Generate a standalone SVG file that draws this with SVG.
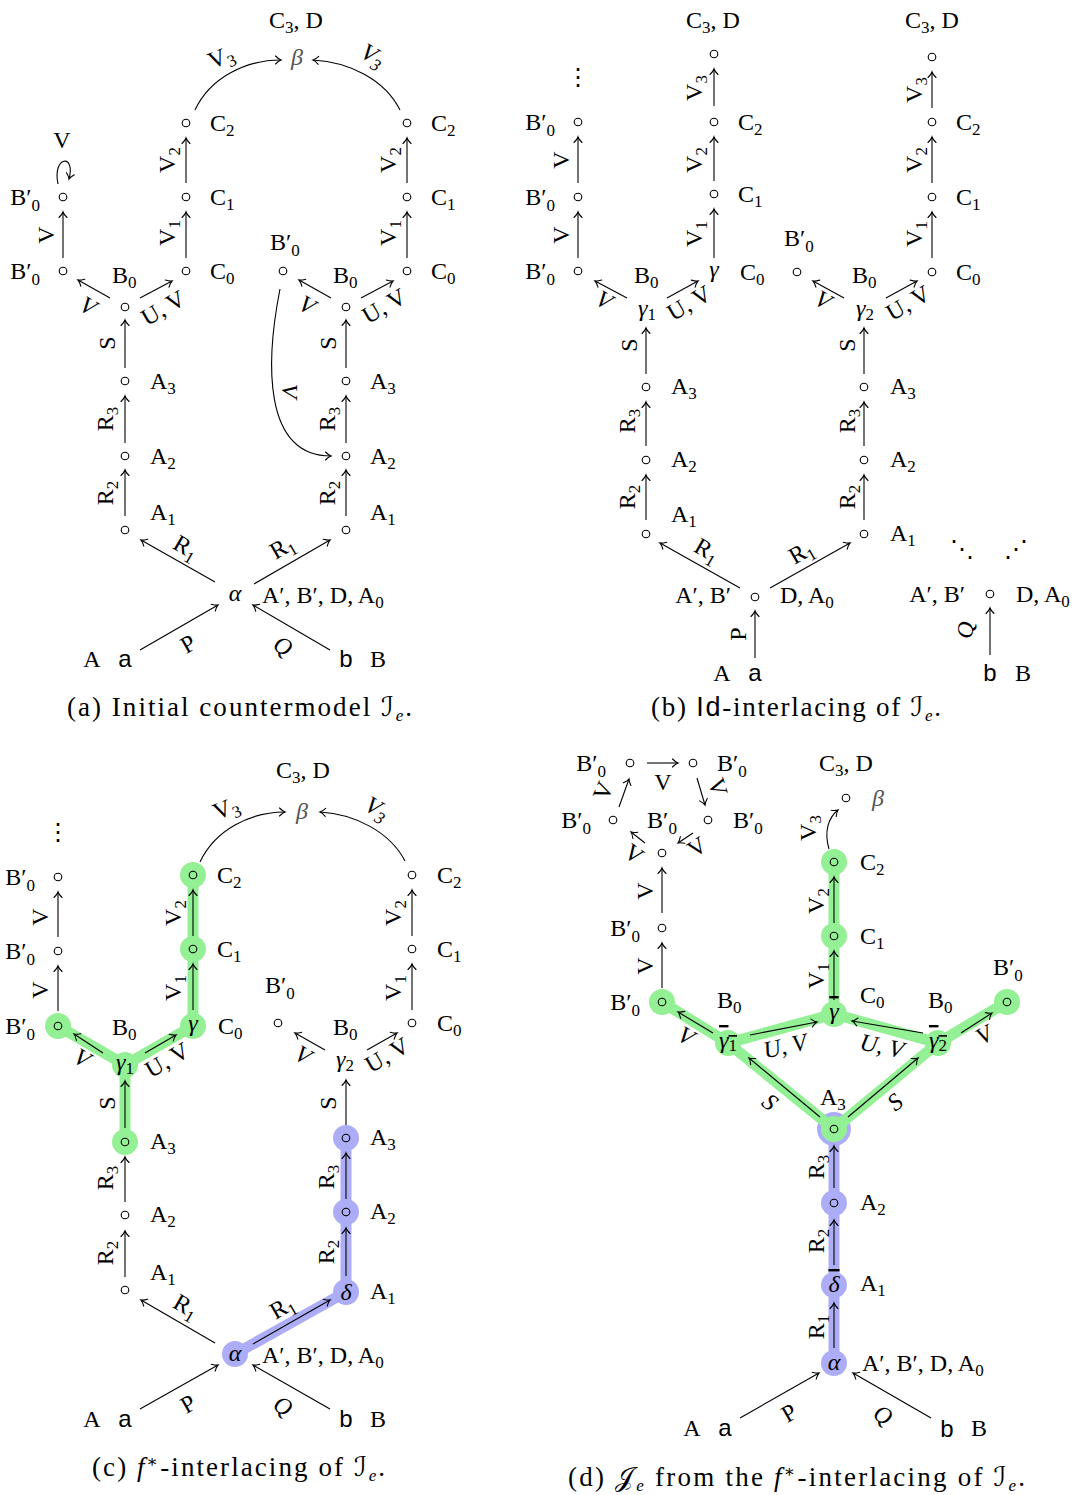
<svg xmlns="http://www.w3.org/2000/svg" width="1080" height="1495" viewBox="0 0 1080 1495">
<style>
.t{font-family:"Liberation Serif","DejaVu Serif",serif;font-size:24px;fill:#000}
.cap{font-size:27px}
.m{text-anchor:middle}
.e{text-anchor:end}
.i{font-style:italic}
.sb{font-size:17px}
.sf{font-family:"Liberation Sans","DejaVu Sans",sans-serif}
.cal{font-family:"DejaVu Serif","DejaVu Sans",serif;font-style:normal}
.gr{fill:#555}
.ov{text-decoration:overline}
.n{fill:none;stroke:#000;stroke-width:1.1}
.ed{fill:none;stroke:#000;stroke-width:1.1;marker-end:url(#ar)}
.hg{fill:none;stroke:#94f094;stroke-width:11;stroke-linecap:round;stroke-linejoin:round}
.hb{fill:none;stroke:#adadf7;stroke-width:11;stroke-linecap:round;stroke-linejoin:round}
.gd{fill:#94f094}
.bd{fill:#adadf7}
</style>
<defs>
<marker id="ar" markerUnits="userSpaceOnUse" orient="auto" overflow="visible" markerWidth="10" markerHeight="10" refX="0" refY="0">
<path d="M-5.5,-4 Q-2,-0.6 0,0 Q-2,0.6 -5.5,4" fill="none" stroke="#000" stroke-width="1.1" stroke-linecap="round"/>
</marker>
</defs>
<rect width="1080" height="1495" fill="#fff"/>

<!-- ================= PANEL A ================= -->
<g id="panel-a">
<g id="a-connectors">
<path class="ed" d="M63,258 L63,212"/>
<path class="ed" d="M58,184 C52,156 76,153 69,179"/>
<path class="ed" d="M110,298 L78,280"/>
<path class="ed" d="M140,298 L172,281"/>
<path class="ed" d="M125,368 L125,320"/>
<path class="ed" d="M125,443 L125,396"/>
<path class="ed" d="M125,516 L125,470"/>
<path class="ed" d="M186,258 L186,212"/>
<path class="ed" d="M186,183 L186,138"/>
<path class="ed" d="M195,110 C210,78 245,60 281,60"/>
<path class="ed" d="M400,110 C385,80 350,62 313,60"/>
<path class="ed" d="M331,298 L299,280"/>
<path class="ed" d="M361,298 L393,281"/>
<path class="ed" d="M346,368 L346,320"/>
<path class="ed" d="M346,443 L346,396"/>
<path class="ed" d="M346,516 L346,470"/>
<path class="ed" d="M407,258 L407,212"/>
<path class="ed" d="M407,183 L407,138"/>
<path class="ed" d="M280,289 C266,360 262,456 331,456"/>
<path class="ed" d="M215,582 L141,540"/>
<path class="ed" d="M254,584 L330,540"/>
<path class="ed" d="M140,650 L218,605"/>
<path class="ed" d="M330,650 L253,605"/>
<text class="t m" x="62" y="148">V</text>
<text class="t m" transform="translate(46,235) rotate(-90)" y="8">V</text>
<text class="t m" transform="translate(167,160) rotate(-90)" y="8">V<tspan class="sb" dy="5">2</tspan></text>
<text class="t m" transform="translate(167,233) rotate(-90)" y="8">V<tspan class="sb" dy="5">1</tspan></text>
<text class="t m" transform="translate(388,160) rotate(-90)" y="8">V<tspan class="sb" dy="5">2</tspan></text>
<text class="t m" transform="translate(388,233) rotate(-90)" y="8">V<tspan class="sb" dy="5">1</tspan></text>
<text class="t m" transform="translate(107,343) rotate(-90)" y="8">S</text>
<text class="t m" transform="translate(328,343) rotate(-90)" y="8">S</text>
<text class="t m" transform="translate(105,419) rotate(-90)" y="8">R<tspan class="sb" dy="5">3</tspan></text>
<text class="t m" transform="translate(105,493) rotate(-90)" y="8">R<tspan class="sb" dy="5">2</tspan></text>
<text class="t m" transform="translate(327,419) rotate(-90)" y="8">R<tspan class="sb" dy="5">3</tspan></text>
<text class="t m" transform="translate(327,493) rotate(-90)" y="8">R<tspan class="sb" dy="5">2</tspan></text>
<text class="t m i" transform="translate(88,306) rotate(30)" y="8">V</text>
<text class="t m" transform="translate(163,308) rotate(-30)" y="8">U, V</text>
<text class="t m i" transform="translate(307,305) rotate(30)" y="8">V</text>
<text class="t m" transform="translate(384,306) rotate(-30)" y="8">U, V</text>
<text class="t m" transform="translate(221,57) rotate(-22)" y="8">V<tspan class="sb" dy="5">3</tspan></text>
<text class="t m i" transform="translate(373,55) rotate(30)" y="8">V<tspan class="sb" dy="5">3</tspan></text>
<text class="t m" transform="translate(186,547) rotate(30)" y="8">R<tspan class="sb" dy="5">1</tspan></text>
<text class="t m" transform="translate(282,547) rotate(-30)" y="8">R<tspan class="sb" dy="5">1</tspan></text>
<text class="t m" transform="translate(188,644) rotate(-30)" y="8">P</text>
<text class="t m i" transform="translate(283,646) rotate(30)" y="8">Q</text>
<text class="t m i" transform="translate(290,391) rotate(90)" y="8">V</text>
</g>
<g id="a-bp2"><circle class="n" cx="63" cy="197" r="3.8"/><text class="t e" x="40" y="205">B′<tspan class="sb" dy="6">0</tspan></text></g>
<g id="a-bp1"><circle class="n" cx="63" cy="271" r="3.8"/><text class="t e" x="40" y="279">B′<tspan class="sb" dy="6">0</tspan></text></g>
<g id="a-b0"><circle class="n" cx="125" cy="307" r="3.8"/><text class="t" x="112" y="283">B<tspan class="sb" dy="5">0</tspan></text></g>
<g id="a-a3"><circle class="n" cx="125" cy="381" r="3.8"/><text class="t" x="150" y="389">A<tspan class="sb" dy="5">3</tspan></text></g>
<g id="a-a2"><circle class="n" cx="125" cy="456" r="3.8"/><text class="t" x="150" y="464">A<tspan class="sb" dy="5">2</tspan></text></g>
<g id="a-a1"><circle class="n" cx="125" cy="530" r="3.8"/><text class="t" x="150" y="520">A<tspan class="sb" dy="5">1</tspan></text></g>
<g id="a-c0"><circle class="n" cx="186" cy="271" r="3.8"/><text class="t" x="210" y="279">C<tspan class="sb" dy="5">0</tspan></text></g>
<g id="a-c1"><circle class="n" cx="186" cy="197" r="3.8"/><text class="t" x="210" y="205">C<tspan class="sb" dy="5">1</tspan></text></g>
<g id="a-c2"><circle class="n" cx="186" cy="123" r="3.8"/><text class="t" x="210" y="131">C<tspan class="sb" dy="5">2</tspan></text></g>
<g id="a-beta"><text class="t m i gr" x="297" y="65">β</text><text class="t m" x="296" y="28">C<tspan class="sb" dy="5">3</tspan><tspan dy="-5">, D</tspan></text></g>
<g id="a-alpha"><text class="t m i" x="235" y="601">α</text><text class="t" x="262" y="603">A′, B′, D, A<tspan class="sb" dy="5">0</tspan></text></g>
<g id="a-a"><text class="t m sf" x="125" y="667">a</text><text class="t m" x="92" y="667">A</text></g>
<g id="a-b"><text class="t m sf" x="346" y="667">b</text><text class="t m" x="378" y="667">B</text></g>
<g id="a-bpr"><circle class="n" cx="283" cy="271" r="3.8"/><text class="t" x="270" y="250">B′<tspan class="sb" dy="6">0</tspan></text></g>
<g id="a-b0r"><circle class="n" cx="346" cy="307" r="3.8"/><text class="t" x="333" y="283">B<tspan class="sb" dy="5">0</tspan></text></g>
<g id="a-a3r"><circle class="n" cx="346" cy="381" r="3.8"/><text class="t" x="370" y="389">A<tspan class="sb" dy="5">3</tspan></text></g>
<g id="a-a2r"><circle class="n" cx="346" cy="456" r="3.8"/><text class="t" x="370" y="464">A<tspan class="sb" dy="5">2</tspan></text></g>
<g id="a-a1r"><circle class="n" cx="346" cy="530" r="3.8"/><text class="t" x="370" y="520">A<tspan class="sb" dy="5">1</tspan></text></g>
<g id="a-c0r"><circle class="n" cx="407" cy="271" r="3.8"/><text class="t" x="431" y="279">C<tspan class="sb" dy="5">0</tspan></text></g>
<g id="a-c1r"><circle class="n" cx="407" cy="197" r="3.8"/><text class="t" x="431" y="205">C<tspan class="sb" dy="5">1</tspan></text></g>
<g id="a-c2r"><circle class="n" cx="407" cy="123" r="3.8"/><text class="t" x="431" y="131">C<tspan class="sb" dy="5">2</tspan></text></g>
<text class="t cap" x="67" y="716" textLength="345" lengthAdjust="spacing">(a) Initial countermodel <tspan class="cal">ℐ</tspan><tspan class="sb i" dy="5">e</tspan><tspan dy="-5">.</tspan></text>
</g>

<!-- ================= PANEL B ================= -->
<g id="panel-b">
<g id="b-connectors">
<path class="ed" d="M578,258 L578,212"/>
<path class="ed" d="M578,183 L578,137"/>
<path class="ed" d="M627,298 L595,281"/>
<path class="ed" d="M667,298 L698,281"/>
<path class="ed" d="M646,374 L646,328"/>
<path class="ed" d="M646,446 L646,402"/>
<path class="ed" d="M646,520 L646,475"/>
<path class="ed" d="M714,258 L714,209"/>
<path class="ed" d="M714,181 L714,137"/>
<path class="ed" d="M714,106 L714,69"/>
<path class="ed" d="M740,588 L660,543"/>
<path class="ed" d="M770,588 L850,543"/>
<path class="ed" d="M755,658 L755,611"/>
<path class="ed" d="M844,298 L813,281"/>
<path class="ed" d="M886,298 L917,281"/>
<path class="ed" d="M864,374 L864,328"/>
<path class="ed" d="M864,446 L864,402"/>
<path class="ed" d="M864,520 L864,475"/>
<path class="ed" d="M932,258 L932,212"/>
<path class="ed" d="M932,183 L932,137"/>
<path class="ed" d="M932,108 L932,72"/>
<path class="ed" d="M990,655 L990,608"/>
<text class="t m" transform="translate(561,160) rotate(-90)" y="8">V</text>
<text class="t m" transform="translate(561,235) rotate(-90)" y="8">V</text>
<text class="t m i" transform="translate(604,300) rotate(30)" y="8">V</text>
<text class="t m" transform="translate(689,303) rotate(-30)" y="8">U, V</text>
<text class="t m" transform="translate(629,345) rotate(-90)" y="8">S</text>
<text class="t m" transform="translate(627,421) rotate(-90)" y="8">R<tspan class="sb" dy="5">3</tspan></text>
<text class="t m" transform="translate(627,497) rotate(-90)" y="8">R<tspan class="sb" dy="5">2</tspan></text>
<text class="t m" transform="translate(694,88) rotate(-90)" y="8">V<tspan class="sb" dy="5">3</tspan></text>
<text class="t m" transform="translate(694,160) rotate(-90)" y="8">V<tspan class="sb" dy="5">2</tspan></text>
<text class="t m" transform="translate(694,234) rotate(-90)" y="8">V<tspan class="sb" dy="5">1</tspan></text>
<text class="t m" transform="translate(707,550) rotate(30)" y="8">R<tspan class="sb" dy="5">1</tspan></text>
<text class="t m" transform="translate(801,552) rotate(-30)" y="8">R<tspan class="sb" dy="5">1</tspan></text>
<text class="t m" transform="translate(738,634) rotate(-90)" y="8">P</text>
<text class="t m i" transform="translate(823,300) rotate(30)" y="8">V</text>
<text class="t m" transform="translate(908,303) rotate(-30)" y="8">U, V</text>
<text class="t m" transform="translate(847,345) rotate(-90)" y="8">S</text>
<text class="t m" transform="translate(847,421) rotate(-90)" y="8">R<tspan class="sb" dy="5">3</tspan></text>
<text class="t m" transform="translate(847,497) rotate(-90)" y="8">R<tspan class="sb" dy="5">2</tspan></text>
<text class="t m" transform="translate(914,90) rotate(-90)" y="8">V<tspan class="sb" dy="5">3</tspan></text>
<text class="t m" transform="translate(914,160) rotate(-90)" y="8">V<tspan class="sb" dy="5">2</tspan></text>
<text class="t m" transform="translate(914,234) rotate(-90)" y="8">V<tspan class="sb" dy="5">1</tspan></text>
<text class="t m i" transform="translate(965,630) rotate(-90)" y="8">Q</text>
</g>
<g id="b-dots"><text class="t m" x="578" y="85">⋮</text></g>
<g id="b-bp3"><circle class="n" cx="578" cy="122" r="3.8"/><text class="t e" x="555" y="130">B′<tspan class="sb" dy="6">0</tspan></text></g>
<g id="b-bp2"><circle class="n" cx="578" cy="197" r="3.8"/><text class="t e" x="555" y="205">B′<tspan class="sb" dy="6">0</tspan></text></g>
<g id="b-bp1"><circle class="n" cx="578" cy="271" r="3.8"/><text class="t e" x="555" y="279">B′<tspan class="sb" dy="6">0</tspan></text></g>
<g id="b-g1"><text class="t m i" x="647" y="316">γ<tspan class="sb" dy="4" font-style="normal">1</tspan></text><text class="t" x="634" y="283">B<tspan class="sb" dy="5">0</tspan></text></g>
<g id="b-a3"><circle class="n" cx="646" cy="387" r="3.8"/><text class="t" x="671" y="394">A<tspan class="sb" dy="5">3</tspan></text></g>
<g id="b-a2"><circle class="n" cx="646" cy="460" r="3.8"/><text class="t" x="671" y="467">A<tspan class="sb" dy="5">2</tspan></text></g>
<g id="b-a1"><circle class="n" cx="646" cy="534" r="3.8"/><text class="t" x="671" y="522">A<tspan class="sb" dy="5">1</tspan></text></g>
<g id="b-c3"><circle class="n" cx="714" cy="54" r="3.8"/><text class="t m" x="713" y="28">C<tspan class="sb" dy="5">3</tspan><tspan dy="-5">, D</tspan></text></g>
<g id="b-c2"><circle class="n" cx="714" cy="122" r="3.8"/><text class="t" x="738" y="130">C<tspan class="sb" dy="5">2</tspan></text></g>
<g id="b-c1"><circle class="n" cx="714" cy="194" r="3.8"/><text class="t" x="738" y="202">C<tspan class="sb" dy="5">1</tspan></text></g>
<g id="b-g"><text class="t m i" x="714" y="277">γ</text><text class="t" x="740" y="280">C<tspan class="sb" dy="5">0</tspan></text></g>
<g id="b-root1"><circle class="n" cx="755" cy="597" r="3.8"/><text class="t e" x="731" y="603">A′, B′</text><text class="t" x="780" y="603">D, A<tspan class="sb" dy="5">0</tspan></text></g>
<g id="b-a"><text class="t m sf" x="755" y="681">a</text><text class="t m" x="722" y="681">A</text></g>
<g id="b-bpr"><circle class="n" cx="797" cy="272" r="3.8"/><text class="t" x="784" y="246">B′<tspan class="sb" dy="6">0</tspan></text></g>
<g id="b-g2"><text class="t m i" x="865" y="316">γ<tspan class="sb" dy="4" font-style="normal">2</tspan></text><text class="t" x="852" y="283">B<tspan class="sb" dy="5">0</tspan></text></g>
<g id="b-a3r"><circle class="n" cx="864" cy="387" r="3.8"/><text class="t" x="890" y="394">A<tspan class="sb" dy="5">3</tspan></text></g>
<g id="b-a2r"><circle class="n" cx="864" cy="460" r="3.8"/><text class="t" x="890" y="467">A<tspan class="sb" dy="5">2</tspan></text></g>
<g id="b-a1r"><circle class="n" cx="864" cy="534" r="3.8"/><text class="t" x="890" y="541">A<tspan class="sb" dy="5">1</tspan></text></g>
<g id="b-c3r"><circle class="n" cx="932" cy="57" r="3.8"/><text class="t m" x="932" y="28">C<tspan class="sb" dy="5">3</tspan><tspan dy="-5">, D</tspan></text></g>
<g id="b-c2r"><circle class="n" cx="932" cy="122" r="3.8"/><text class="t" x="956" y="130">C<tspan class="sb" dy="5">2</tspan></text></g>
<g id="b-c1r"><circle class="n" cx="932" cy="197" r="3.8"/><text class="t" x="956" y="205">C<tspan class="sb" dy="5">1</tspan></text></g>
<g id="b-c0r"><circle class="n" cx="932" cy="272" r="3.8"/><text class="t" x="956" y="280">C<tspan class="sb" dy="5">0</tspan></text></g>
<g id="b-root2"><circle class="n" cx="990" cy="594" r="3.8"/><text class="t e" x="965" y="602">A′, B′</text><text class="t" x="1016" y="602">D, A<tspan class="sb" dy="5">0</tspan></text></g>
<g id="b-b"><text class="t m sf" x="990" y="681">b</text><text class="t m" x="1023" y="681">B</text></g>
<g id="b-dd"><text class="t m" x="962" y="557">⋱</text><text class="t m" x="1016" y="557">⋰</text></g>
<text class="t cap" x="651" y="716" textLength="290" lengthAdjust="spacing">(b) <tspan class="sf">Id</tspan>-interlacing of <tspan class="cal">ℐ</tspan><tspan class="sb i" dy="5">e</tspan><tspan dy="-5">.</tspan></text>
</g>

<!-- ================= PANEL C ================= -->
<g id="panel-c">
<g id="c-highlight">
<path class="hb" d="M235,1354 L346,1292 L346,1138"/>
<circle class="bd" cx="235" cy="1354" r="13"/>
<circle class="bd" cx="346" cy="1292" r="13"/>
<circle class="bd" cx="346" cy="1212" r="13"/>
<circle class="bd" cx="346" cy="1138" r="13"/>
<path class="hg" d="M58,1026 L125,1065 L193,1026 L193,875 M125,1065 L125,1142"/>
<circle class="gd" cx="58" cy="1026" r="13"/>
<circle class="gd" cx="125" cy="1065" r="13"/>
<circle class="gd" cx="193" cy="1026" r="13"/>
<circle class="gd" cx="193" cy="949" r="13"/>
<circle class="gd" cx="193" cy="875" r="13"/>
<circle class="gd" cx="125" cy="1142" r="13"/>
</g>
<g id="c-connectors">
<path class="ed" d="M58,1011 L58,966"/>
<path class="ed" d="M58,937 L58,892"/>
<path class="ed" d="M103,1053 L74,1034"/>
<path class="ed" d="M145,1053 L176,1035"/>
<path class="ed" d="M125,1128 L125,1081"/>
<path class="ed" d="M125,1202 L125,1157"/>
<path class="ed" d="M125,1277 L125,1231"/>
<path class="ed" d="M193,1010 L193,964"/>
<path class="ed" d="M193,936 L193,890"/>
<path class="ed" d="M200,862 C215,830 250,812 285,812"/>
<path class="ed" d="M405,861 C390,832 355,814 320,812"/>
<path class="ed" d="M215,1343 L141,1300"/>
<path class="ed" d="M253,1344 L330,1300"/>
<path class="ed" d="M140,1409 L218,1365"/>
<path class="ed" d="M330,1409 L253,1365"/>
<path class="ed" d="M325,1050 L295,1033"/>
<path class="ed" d="M367,1050 L397,1033"/>
<path class="ed" d="M346,1125 L346,1080"/>
<path class="ed" d="M346,1199 L346,1153"/>
<path class="ed" d="M346,1276 L346,1228"/>
<path class="ed" d="M412,1010 L412,964"/>
<path class="ed" d="M412,936 L412,890"/>
<text class="t m" transform="translate(40,917) rotate(-90)" y="8">V</text>
<text class="t m" transform="translate(40,990) rotate(-90)" y="8">V</text>
<text class="t m i" transform="translate(82,1058) rotate(30)" y="8">V</text>
<text class="t m" transform="translate(167,1060) rotate(-30)" y="8">U, V</text>
<text class="t m" transform="translate(107,1103) rotate(-90)" y="8">S</text>
<text class="t m" transform="translate(105,1178) rotate(-90)" y="8">R<tspan class="sb" dy="5">3</tspan></text>
<text class="t m" transform="translate(105,1253) rotate(-90)" y="8">R<tspan class="sb" dy="5">2</tspan></text>
<text class="t m" transform="translate(173,913) rotate(-90)" y="8">V<tspan class="sb" dy="5">2</tspan></text>
<text class="t m" transform="translate(173,988) rotate(-90)" y="8">V<tspan class="sb" dy="5">1</tspan></text>
<text class="t m" transform="translate(226,808) rotate(-22)" y="8">V<tspan class="sb" dy="5">3</tspan></text>
<text class="t m i" transform="translate(377,808) rotate(30)" y="8">V<tspan class="sb" dy="5">3</tspan></text>
<text class="t m" transform="translate(186,1306) rotate(30)" y="8">R<tspan class="sb" dy="5">1</tspan></text>
<text class="t m" transform="translate(282,1307) rotate(-30)" y="8">R<tspan class="sb" dy="5">1</tspan></text>
<text class="t m" transform="translate(188,1404) rotate(-30)" y="8">P</text>
<text class="t m i" transform="translate(283,1406) rotate(30)" y="8">Q</text>
<text class="t m i" transform="translate(303,1055) rotate(30)" y="8">V</text>
<text class="t m" transform="translate(387,1055) rotate(-30)" y="8">U, V</text>
<text class="t m" transform="translate(328,1103) rotate(-90)" y="8">S</text>
<text class="t m" transform="translate(326,1177) rotate(-90)" y="8">R<tspan class="sb" dy="5">3</tspan></text>
<text class="t m" transform="translate(326,1252) rotate(-90)" y="8">R<tspan class="sb" dy="5">2</tspan></text>
<text class="t m" transform="translate(393,913) rotate(-90)" y="8">V<tspan class="sb" dy="5">2</tspan></text>
<text class="t m" transform="translate(393,988) rotate(-90)" y="8">V<tspan class="sb" dy="5">1</tspan></text>
</g>
<g id="c-dots"><text class="t m" x="58" y="840">⋮</text></g>
<g id="c-bp3"><circle class="n" cx="58" cy="877" r="3.8"/><text class="t e" x="35" y="885">B′<tspan class="sb" dy="6">0</tspan></text></g>
<g id="c-bp2"><circle class="n" cx="58" cy="951" r="3.8"/><text class="t e" x="35" y="959">B′<tspan class="sb" dy="6">0</tspan></text></g>
<g id="c-bp1"><circle class="n" cx="58" cy="1026" r="3.8"/><text class="t e" x="35" y="1034">B′<tspan class="sb" dy="6">0</tspan></text></g>
<g id="c-g1"><text class="t m i" x="125" y="1070">γ<tspan class="sb" dy="4" font-style="normal">1</tspan></text><text class="t" x="112" y="1035">B<tspan class="sb" dy="5">0</tspan></text></g>
<g id="c-a3"><circle class="n" cx="125" cy="1142" r="3.8"/><text class="t" x="150" y="1149">A<tspan class="sb" dy="5">3</tspan></text></g>
<g id="c-a2"><circle class="n" cx="125" cy="1215" r="3.8"/><text class="t" x="150" y="1222">A<tspan class="sb" dy="5">2</tspan></text></g>
<g id="c-a1"><circle class="n" cx="125" cy="1290" r="3.8"/><text class="t" x="150" y="1280">A<tspan class="sb" dy="5">1</tspan></text></g>
<g id="c-c2"><circle class="n" cx="193" cy="875" r="3.8"/><text class="t" x="217" y="883">C<tspan class="sb" dy="5">2</tspan></text></g>
<g id="c-c1"><circle class="n" cx="193" cy="949" r="3.8"/><text class="t" x="217" y="957">C<tspan class="sb" dy="5">1</tspan></text></g>
<g id="c-g"><text class="t m i" x="193" y="1031">γ</text><text class="t" x="218" y="1034">C<tspan class="sb" dy="5">0</tspan></text></g>
<g id="c-beta"><text class="t m i gr" x="302" y="819">β</text><text class="t m" x="303" y="778">C<tspan class="sb" dy="5">3</tspan><tspan dy="-5">, D</tspan></text></g>
<g id="c-alpha"><text class="t m i" x="235" y="1361">α</text><text class="t" x="262" y="1363">A′, B′, D, A<tspan class="sb" dy="5">0</tspan></text></g>
<g id="c-a"><text class="t m sf" x="125" y="1427">a</text><text class="t m" x="92" y="1427">A</text></g>
<g id="c-b"><text class="t m sf" x="346" y="1427">b</text><text class="t m" x="378" y="1427">B</text></g>
<g id="c-bpr"><circle class="n" cx="278" cy="1023" r="3.8"/><text class="t" x="265" y="993">B′<tspan class="sb" dy="6">0</tspan></text></g>
<g id="c-g2"><text class="t m i" x="345" y="1067">γ<tspan class="sb" dy="4" font-style="normal">2</tspan></text><text class="t" x="333" y="1035">B<tspan class="sb" dy="5">0</tspan></text></g>
<g id="c-c2r"><circle class="n" cx="412" cy="875" r="3.8"/><text class="t" x="437" y="883">C<tspan class="sb" dy="5">2</tspan></text></g>
<g id="c-c1r"><circle class="n" cx="412" cy="949" r="3.8"/><text class="t" x="437" y="957">C<tspan class="sb" dy="5">1</tspan></text></g>
<g id="c-c0r"><circle class="n" cx="412" cy="1023" r="3.8"/><text class="t" x="437" y="1031">C<tspan class="sb" dy="5">0</tspan></text></g>
<g id="c-a3r"><circle class="n" cx="346" cy="1138" r="3.8"/><text class="t" x="370" y="1145">A<tspan class="sb" dy="5">3</tspan></text></g>
<g id="c-a2r"><circle class="n" cx="346" cy="1212" r="3.8"/><text class="t" x="370" y="1219">A<tspan class="sb" dy="5">2</tspan></text></g>
<g id="c-delta"><text class="t m i" x="346" y="1300">δ</text><text class="t" x="370" y="1299">A<tspan class="sb" dy="5">1</tspan></text></g>
<text class="t cap" x="92" y="1476" textLength="293" lengthAdjust="spacing">(c) <tspan class="i">f</tspan><tspan class="sb" dy="-9">∗</tspan><tspan dy="9">-interlacing of </tspan><tspan class="cal">ℐ</tspan><tspan class="sb i" dy="5">e</tspan><tspan dy="-5">.</tspan></text>
</g>

<!-- ================= PANEL D ================= -->
<g id="panel-d">
<g id="d-highlight">
<path class="hb" d="M834,1129 L834,1363"/>
<circle class="bd" cx="834" cy="1129" r="17"/>
<circle class="bd" cx="834" cy="1203" r="13"/>
<circle class="bd" cx="834" cy="1285" r="13"/>
<circle class="bd" cx="834" cy="1363" r="13"/>
<path class="hg" d="M662,1002 L728,1043 L834,1014 L938,1043 L1007,1002 M728,1043 L834,1129 L938,1043 M834,1014 L834,862"/>
<circle class="gd" cx="662" cy="1002" r="13"/>
<circle class="gd" cx="728" cy="1043" r="13"/>
<circle class="gd" cx="834" cy="1014" r="13"/>
<circle class="gd" cx="938" cy="1043" r="13"/>
<circle class="gd" cx="1007" cy="1002" r="13"/>
<circle class="gd" cx="834" cy="936" r="13"/>
<circle class="gd" cx="834" cy="862" r="13"/>
<circle class="gd" cx="834" cy="1129" r="13"/>
</g>
<g id="d-connectors">
<path class="ed" d="M647,763 L678,763"/>
<path class="ed" d="M697,778 L705,805"/>
<path class="ed" d="M693,833 L678,843"/>
<path class="ed" d="M645,843 L631,832"/>
<path class="ed" d="M619,807 L629,779"/>
<path class="ed" d="M662,913 L662,868"/>
<path class="ed" d="M662,988 L662,943"/>
<path class="ed" d="M713,1033 L678,1012"/>
<path class="ed" d="M750,1035 L817,1022"/>
<path class="ed" d="M923,1033 L852,1021"/>
<path class="ed" d="M961,1033 L992,1013"/>
<path class="ed" d="M820,1117 L749,1058"/>
<path class="ed" d="M848,1117 L918,1058"/>
<path class="ed" d="M834,1000 L834,951"/>
<path class="ed" d="M834,923 L834,877"/>
<path class="ed" d="M829,849 C824,832 828,818 838,810"/>
<path class="ed" d="M834,1188 L834,1146"/>
<path class="ed" d="M834,1265 L834,1220"/>
<path class="ed" d="M834,1348 L834,1303"/>
<path class="ed" d="M740,1418 L819,1373"/>
<path class="ed" d="M931,1418 L853,1373"/>
<text class="t m" x="663" y="790">V</text>
<text class="t m" transform="translate(718,787) rotate(73)" y="8">V</text>
<text class="t m" transform="translate(697,847) rotate(-34)" y="8">V</text>
<text class="t m" transform="translate(634,854) rotate(36)" y="8">V</text>
<text class="t m" transform="translate(603,791) rotate(-67)" y="8">V</text>
<text class="t m" transform="translate(645,891) rotate(-90)" y="8">V</text>
<text class="t m" transform="translate(645,966) rotate(-90)" y="8">V</text>
<text class="t m i" transform="translate(686,1036) rotate(30)" y="8">V</text>
<text class="t m i" transform="translate(785,1046) rotate(-12)" y="8">U, V</text>
<text class="t m i" transform="translate(882,1046) rotate(12)" y="8">U, V</text>
<text class="t m i" transform="translate(984,1035) rotate(-30)" y="8">V</text>
<text class="t m i" transform="translate(770,1102) rotate(40)" y="8">S</text>
<text class="t m i" transform="translate(895,1102) rotate(-40)" y="8">S</text>
<text class="t m" transform="translate(808,828) rotate(-90)" y="8">V<tspan class="sb" dy="5">3</tspan></text>
<text class="t m" transform="translate(816,901) rotate(-90)" y="8">V<tspan class="sb" dy="5">2</tspan></text>
<text class="t m" transform="translate(816,976) rotate(-90)" y="8">V<tspan class="sb" dy="5">1</tspan></text>
<text class="t m" transform="translate(816,1167) rotate(-90)" y="8">R<tspan class="sb" dy="5">3</tspan></text>
<text class="t m" transform="translate(816,1241) rotate(-90)" y="8">R<tspan class="sb" dy="5">2</tspan></text>
<text class="t m" transform="translate(816,1327) rotate(-90)" y="8">R<tspan class="sb" dy="5">1</tspan></text>
<text class="t m" transform="translate(789,1413) rotate(-30)" y="8">P</text>
<text class="t m i" transform="translate(883,1415) rotate(30)" y="8">Q</text>
</g>
<g id="d-tl"><circle class="n" cx="630" cy="763" r="3.8"/><text class="t e" x="606" y="771">B′<tspan class="sb" dy="6">0</tspan></text></g>
<g id="d-tr"><circle class="n" cx="693" cy="763" r="3.8"/><text class="t" x="717" y="771">B′<tspan class="sb" dy="6">0</tspan></text></g>
<g id="d-ml"><circle class="n" cx="613" cy="820" r="3.8"/><text class="t e" x="591" y="828">B′<tspan class="sb" dy="6">0</tspan></text></g>
<g id="d-mr"><circle class="n" cx="708" cy="820" r="3.8"/><text class="t" x="733" y="828">B′<tspan class="sb" dy="6">0</tspan></text></g>
<g id="d-cc"><circle class="n" cx="662" cy="853" r="3.8"/><text class="t m" x="662" y="828">B′<tspan class="sb" dy="6">0</tspan></text></g>
<g id="d-bp2"><circle class="n" cx="662" cy="928" r="3.8"/><text class="t e" x="640" y="936">B′<tspan class="sb" dy="6">0</tspan></text></g>
<g id="d-bp1"><circle class="n" cx="662" cy="1002" r="3.8"/><text class="t e" x="640" y="1010">B′<tspan class="sb" dy="6">0</tspan></text></g>
<g id="d-g1"><text class="t m i ov" x="728" y="1048">γ<tspan class="sb" dy="3" font-style="normal">1</tspan></text><text class="t" x="717" y="1008">B<tspan class="sb" dy="5">0</tspan></text></g>
<g id="d-g"><text class="t m i ov" x="834" y="1019">γ</text><text class="t" x="860" y="1003">C<tspan class="sb" dy="5">0</tspan></text></g>
<g id="d-c1"><circle class="n" cx="834" cy="936" r="3.8"/><text class="t" x="860" y="944">C<tspan class="sb" dy="5">1</tspan></text></g>
<g id="d-c2"><circle class="n" cx="834" cy="862" r="3.8"/><text class="t" x="860" y="870">C<tspan class="sb" dy="5">2</tspan></text></g>
<g id="d-beta"><circle class="n" cx="846" cy="798" r="3.8"/><text class="t m i gr" x="878" y="806">β</text><text class="t m" x="846" y="771">C<tspan class="sb" dy="5">3</tspan><tspan dy="-5">, D</tspan></text></g>
<g id="d-g2"><text class="t m i ov" x="938" y="1048">γ<tspan class="sb" dy="3" font-style="normal">2</tspan></text><text class="t" x="928" y="1008">B<tspan class="sb" dy="5">0</tspan></text></g>
<g id="d-bpr"><circle class="n" cx="1007" cy="1002" r="3.8"/><text class="t" x="993" y="975">B′<tspan class="sb" dy="6">0</tspan></text></g>
<g id="d-a3"><circle class="n" cx="834" cy="1129" r="3.8"/><text class="t" x="820" y="1105">A<tspan class="sb" dy="5">3</tspan></text></g>
<g id="d-a2"><circle class="n" cx="834" cy="1203" r="3.8"/><text class="t" x="860" y="1210">A<tspan class="sb" dy="5">2</tspan></text></g>
<g id="d-delta"><text class="t m i ov" x="834" y="1292">δ</text><text class="t" x="860" y="1291">A<tspan class="sb" dy="5">1</tspan></text></g>
<g id="d-alpha"><text class="t m i" x="834" y="1370">α</text><text class="t" x="862" y="1371">A′, B′, D, A<tspan class="sb" dy="5">0</tspan></text></g>
<g id="d-a"><text class="t m sf" x="725" y="1436">a</text><text class="t m" x="692" y="1436">A</text></g>
<g id="d-b"><text class="t m sf" x="947" y="1437">b</text><text class="t m" x="979" y="1436">B</text></g>
<text class="t cap" x="568" y="1486" textLength="457" lengthAdjust="spacing">(d) <tspan class="cal">𝒥</tspan><tspan class="sb i" dy="5">e</tspan><tspan dy="-5"> from the </tspan><tspan class="i">f</tspan><tspan class="sb" dy="-9">∗</tspan><tspan dy="9">-interlacing of </tspan><tspan class="cal">ℐ</tspan><tspan class="sb i" dy="5">e</tspan><tspan dy="-5">.</tspan></text>
</g>
</svg>
